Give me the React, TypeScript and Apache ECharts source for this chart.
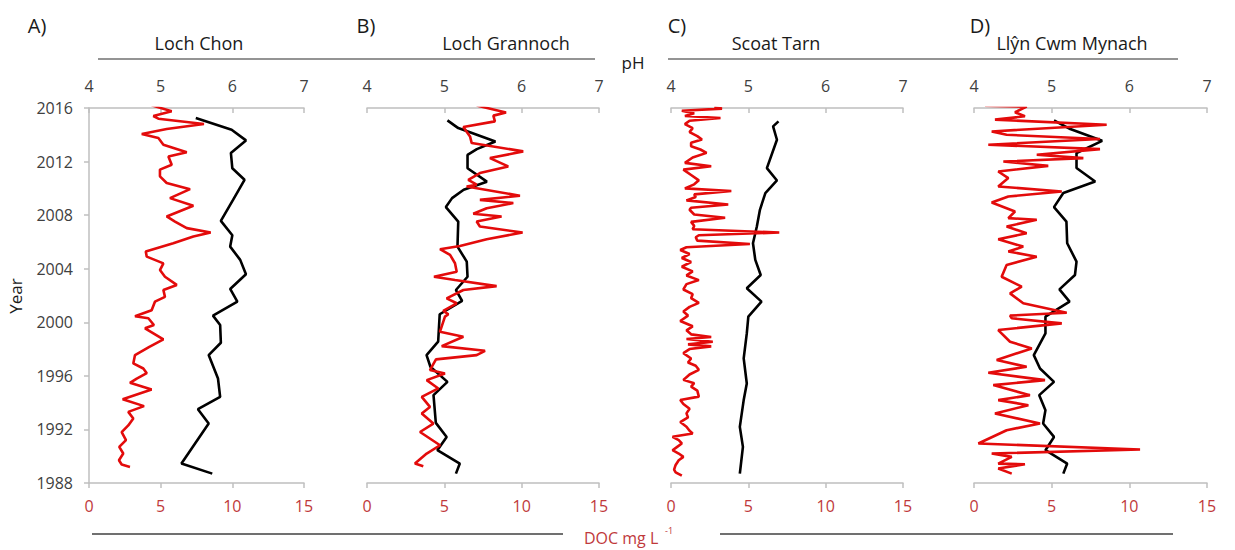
import React, { useEffect, useRef } from "react";
import * as echarts from "echarts";

// ---------- DATA (year, value) ----------
const panelTitles = ["Loch Chon", "Loch Grannoch", "Scoat Tarn", "Llŷn Cwm Mynach"];
const panelLetters = ["A)", "B)", "C)", "D)"];
const phTicks = [4, 5, 6, 7];
const docTicks = [0, 5, 10, 15];
const yearTicks = [1988, 1992, 1996, 2000, 2004, 2008, 2012, 2016];

const chonPH = [
  [2015.25, 5.49], [2014.38, 5.99], [2013.58, 6.19], [2012.64, 5.98], [2011.5, 6.0], [2010.64, 6.17],
  [2009.14, 6.01], [2007.57, 5.84], [2006.5, 6.0], [2005.65, 5.97], [2004.66, 6.11], [2003.59, 6.19],
  [2002.49, 5.97], [2001.54, 6.07], [2000.5, 5.73], [1999.8, 5.83], [1998.47, 5.84], [1997.55, 5.67],
  [1995.8, 5.8], [1994.43, 5.83], [1993.51, 5.52], [1992.44, 5.67], [1989.45, 5.29], [1988.7, 5.72],
];
const chonDOC = [
  [2016.2, 4.37], [2015.75, 5.77], [2015.4, 4.49], [2015.2, 4.84], [2014.8, 8.02], [2014.43, 5.42],
  [2014.06, 3.68], [2013.76, 4.84], [2013.26, 5.19], [2012.7, 6.82], [2012.38, 5.54], [2011.76, 5.77],
  [2011.4, 4.95], [2010.9, 4.95], [2010.4, 5.42], [2009.94, 7.05], [2009.27, 5.65], [2008.7, 7.28],
  [2007.9, 5.42], [2007.52, 6.0], [2007.03, 6.82], [2006.7, 8.49], [2006.4, 7.28], [2005.9, 5.88],
  [2005.28, 3.96], [2004.9, 4.03], [2004.4, 5.19], [2003.9, 4.95], [2003.4, 5.3], [2002.79, 6.12],
  [2002.41, 5.19], [2001.9, 5.3], [2001.54, 4.6], [2000.9, 4.37], [2000.45, 3.21], [2000.3, 4.14],
  [1999.8, 4.53], [1999.55, 3.91], [1998.73, 5.19], [1998.17, 4.21], [1997.55, 3.21], [1996.93, 3.09],
  [1996.55, 3.79], [1996.2, 4.03], [1995.8, 3.33], [1995.48, 2.86], [1994.98, 4.37], [1994.26, 2.35],
  [1993.74, 3.84], [1993.31, 2.74], [1992.82, 3.09], [1992.3, 2.74], [1991.8, 2.28], [1991.2, 2.58],
  [1990.7, 2.11], [1990.2, 2.39], [1989.7, 2.09], [1989.38, 2.28], [1989.2, 2.86],
];

const grannochPH = [
  [2015.08, 5.04], [2014.5, 5.18], [2013.5, 5.66], [2012.93, 5.42], [2012.5, 5.3], [2011.5, 5.3],
  [2010.5, 5.55], [2009.9, 5.25], [2009.27, 5.1], [2008.6, 5.02], [2007.52, 5.18], [2005.65, 5.17],
  [2004.53, 5.29], [2003.4, 5.3], [2002.41, 5.15], [2001.6, 5.23], [2000.6, 4.94], [1998.55, 4.92],
  [1997.55, 4.77], [1996.68, 4.82], [1995.55, 5.04], [1994.56, 4.86], [1992.49, 4.89], [1991.44, 5.03],
  [1990.45, 4.91], [1989.45, 5.2], [1988.7, 5.15],
];
const grannochDOC = [
  [2016.18, 7.09], [2015.67, 8.99], [2015.43, 8.17], [2015.0, 8.27], [2014.58, 6.23], [2013.88, 6.66],
  [2013.38, 6.77], [2012.76, 10.1], [2012.26, 7.95], [2011.64, 9.13], [2011.14, 7.3], [2010.64, 6.55],
  [2010.27, 7.09], [2010.14, 6.44], [2009.45, 9.89], [2009.14, 7.3], [2008.9, 9.46], [2008.52, 7.74],
  [2008.1, 6.87], [2007.9, 8.7], [2007.52, 7.09], [2007.15, 7.3], [2006.7, 10.06], [2006.2, 7.74],
  [2005.7, 6.01], [2005.46, 4.72], [2005.03, 5.37], [2004.41, 5.69], [2003.78, 5.8], [2003.4, 4.33],
  [2003.16, 5.69], [2002.7, 8.38], [2002.41, 6.23], [2001.79, 5.15], [2001.42, 5.8], [2000.85, 4.93],
  [2000.6, 5.26], [2000.42, 5.04], [1999.3, 4.72], [1998.92, 6.23], [1998.22, 4.83], [1997.87, 7.63],
  [1997.55, 7.09], [1997.23, 4.46], [1996.43, 4.07], [1996.18, 5.04], [1995.68, 3.86], [1995.06, 4.61],
  [1994.43, 3.54], [1993.68, 4.07], [1993.19, 3.54], [1992.44, 4.29], [1991.81, 3.43], [1990.82, 4.72],
  [1990.2, 3.86], [1989.45, 3.1], [1989.25, 3.64],
];

const scoatPH = [
  [2015.0, 5.39], [2014.63, 5.32], [2013.63, 5.37], [2011.51, 5.24], [2010.59, 5.37], [2009.65, 5.22],
  [2008.4, 5.15], [2007.15, 5.11], [2005.9, 5.06], [2004.66, 5.09], [2003.53, 5.16], [2002.54, 4.98],
  [2001.54, 5.17], [2000.42, 5.0], [1999.17, 4.98], [1997.3, 4.94], [1995.43, 4.98], [1994.19, 4.94],
  [1992.19, 4.89], [1990.7, 4.93], [1988.7, 4.89],
];
const scoatDOC = [
  [2016.05, 2.8], [2015.95, 3.3], [2015.8, 0.7], [2015.6, 1.5], [2015.4, 0.9], [2015.25, 3.2],
  [2015.05, 1.2], [2014.8, 0.9], [2014.5, 1.4], [2014.2, 1.2], [2013.9, 1.7], [2013.65, 2.0],
  [2013.4, 1.3], [2013.15, 1.3], [2012.9, 1.9], [2012.65, 2.3], [2012.3, 1.4], [2011.9, 0.9],
  [2011.65, 2.6], [2011.4, 0.8], [2011.0, 1.3], [2010.6, 1.8], [2010.3, 1.5], [2010.0, 0.9],
  [2009.8, 3.9], [2009.55, 1.5], [2009.35, 1.6], [2009.1, 1.0], [2008.8, 3.7], [2008.55, 1.3],
  [2008.4, 1.2], [2008.05, 1.5], [2007.8, 3.5], [2007.5, 1.3], [2007.2, 1.5], [2006.95, 1.4],
  [2006.7, 7.0], [2006.5, 1.8], [2006.35, 1.6], [2006.1, 1.7], [2005.85, 5.1], [2005.6, 1.0],
  [2005.4, 0.6], [2005.1, 1.2], [2004.8, 0.7], [2004.5, 1.3], [2004.15, 0.7], [2003.8, 1.4],
  [2003.5, 1.0], [2003.15, 1.8], [2002.85, 1.0], [2002.45, 0.8], [2002.1, 1.4], [2001.8, 1.3],
  [2001.45, 1.8], [2001.15, 1.2], [2000.8, 0.8], [2000.5, 1.1], [2000.1, 0.6], [1999.7, 1.4],
  [1999.4, 1.0], [1999.1, 1.3], [1998.9, 2.6], [1998.75, 1.0], [1998.55, 2.7], [1998.35, 1.1],
  [1998.2, 2.6], [1998.0, 1.2], [1997.7, 0.8], [1997.3, 1.3], [1997.0, 1.1], [1996.75, 1.6],
  [1996.45, 1.8], [1996.1, 1.2], [1995.9, 1.0], [1995.7, 0.8], [1995.45, 1.5], [1995.2, 1.3],
  [1994.9, 1.7], [1994.45, 1.8], [1994.2, 0.6], [1993.9, 0.8], [1993.55, 1.2], [1993.2, 1.0],
  [1992.9, 1.1], [1992.55, 0.6], [1992.2, 1.0], [1991.9, 1.2], [1991.7, 1.4], [1991.45, 0.1],
  [1991.2, 0.5], [1990.95, 0.7], [1990.7, 0.4], [1990.45, 0.1], [1990.2, 0.5], [1989.95, 0.8],
  [1989.7, 0.5], [1989.35, 0.3], [1989.0, 0.2], [1988.8, 0.3], [1988.55, 0.7],
];

const mynachPH = [
  [2015.08, 5.03], [2014.43, 5.24], [2013.55, 5.65], [2012.64, 5.32], [2011.52, 5.32], [2010.51, 5.56],
  [2009.65, 5.15], [2008.6, 5.03], [2007.52, 5.19], [2005.9, 5.2], [2004.53, 5.32], [2003.53, 5.3],
  [2002.46, 5.1], [2001.54, 5.23], [2000.42, 4.92], [1999.17, 4.92], [1997.55, 4.77], [1996.55, 4.85],
  [1995.55, 5.03], [1994.56, 4.84], [1993.44, 4.92], [1992.44, 4.89], [1991.44, 5.03], [1990.45, 4.92],
  [1989.45, 5.2], [1988.7, 5.15],
];
const mynachDOC = [
  [2016.18, 0.71], [2016.1, 3.39], [2015.68, 2.64], [2015.38, 3.28], [2015.13, 1.35], [2014.75, 8.54],
  [2014.25, 1.14], [2014.0, 2.1], [2013.68, 8.11], [2013.26, 0.92], [2012.93, 8.11], [2012.51, 4.04],
  [2012.26, 7.04], [2012.0, 1.89], [2011.68, 4.78], [2011.26, 1.56], [2010.77, 2.21], [2010.14, 1.56],
  [2009.77, 5.65], [2009.39, 2.21], [2008.94, 1.14], [2008.27, 2.64], [2007.78, 2.21], [2007.65, 4.04],
  [2007.15, 2.1], [2006.65, 3.39], [2006.2, 1.56], [2005.65, 3.17], [2005.28, 2.21], [2004.9, 4.04],
  [2004.28, 2.1], [2003.4, 1.78], [2002.66, 3.07], [2002.16, 2.32], [2001.42, 3.17], [2000.71, 5.97],
  [2000.5, 2.32], [2000.3, 2.43], [1999.92, 5.65], [1999.42, 1.56], [1998.55, 2.32], [1998.05, 3.72],
  [1997.18, 1.46], [1996.68, 3.39], [1996.23, 0.92], [1995.68, 4.57], [1995.31, 1.24], [1994.56, 3.6],
  [1994.19, 1.56], [1993.81, 3.5], [1993.19, 1.35], [1992.44, 4.25], [1991.94, 2.1], [1990.95, 0.28],
  [1990.5, 10.69], [1990.2, 1.14], [1989.95, 2.43], [1989.45, 1.56], [1989.4, 3.28], [1989.08, 1.56],
  [1988.7, 2.43],
];

const phSeries = [chonPH, grannochPH, scoatPH, mynachPH];
const docSeries = [chonDOC, grannochDOC, scoatDOC, mynachDOC];

// ---------- LAYOUT ----------
const FONT = "'Open Sans', sans-serif";
const gridBoxes = [
  { left: 89, width: 215 },
  { left: 367, width: 232 },
  { left: 671, width: 232 },
  { left: 974, width: 233 },
];
const GRID_TOP = 108;
const GRID_H = 375;
const AXIS_GRAY = "#BFBFBF";
const LABEL_GRAY = "#404040";
const DOC_RED = "#C0393B";
const LINE_RED = "#E30B0B";

export default function App() {
  const ref = useRef<HTMLDivElement>(null);

  useEffect(() => {
    if (!ref.current) return;
    const chart = echarts.init(ref.current, null, { renderer: "svg" });

    const grid = gridBoxes.map((g) => ({ left: g.left, top: GRID_TOP, width: g.width, height: GRID_H }));

    const xAxis: any[] = [];
    gridBoxes.forEach((_, i) => {
      xAxis.push({
        type: "value",
        gridIndex: i,
        position: "top",
        min: phTicks[0],
        max: phTicks[phTicks.length - 1],
        interval: 1,
        axisLine: { show: true, onZero: false, lineStyle: { color: AXIS_GRAY, width: 1.5 } },
        axisTick: { show: true, inside: true, length: 5, lineStyle: { color: AXIS_GRAY, width: 1.5 } },
        axisLabel: { color: LABEL_GRAY, fontSize: 16, fontFamily: FONT, margin: 14 },
        splitLine: { show: false },
      });
      xAxis.push({
        type: "value",
        gridIndex: i,
        position: "bottom",
        min: docTicks[0],
        max: docTicks[docTicks.length - 1],
        interval: 5,
        axisLine: { show: true, onZero: false, lineStyle: { color: AXIS_GRAY, width: 1.5 } },
        axisTick: { show: true, inside: false, length: 5, lineStyle: { color: AXIS_GRAY, width: 1.5 } },
        axisLabel: { color: DOC_RED, fontSize: 16, fontFamily: FONT, margin: 15 },
        splitLine: { show: false },
      });
    });

    const yAxis = gridBoxes.map((_, i) => ({
      type: "value",
      gridIndex: i,
      min: yearTicks[0],
      max: yearTicks[yearTicks.length - 1],
      interval: 4,
      show: i === 0,
      axisLine: { show: true, onZero: false, lineStyle: { color: AXIS_GRAY, width: 1.5 } },
      axisTick: { show: true, length: 5, lineStyle: { color: AXIS_GRAY, width: 1.5 } },
      axisLabel: {
        color: LABEL_GRAY,
        fontSize: 16,
        fontFamily: FONT,
        margin: 16,
        formatter: (v: number) => String(v),
      },
      splitLine: { show: false },
    }));

    const series: any[] = [];
    gridBoxes.forEach((_, i) => {
      series.push({
        type: "line",
        name: panelTitles[i] + " pH",
        xAxisIndex: 2 * i,
        yAxisIndex: i,
        data: phSeries[i].map(([yr, v]) => [v, yr]),
        showSymbol: false,
        symbol: "none",
        lineStyle: { color: "#000", width: 2.6 },
        z: 2,
      });
      series.push({
        type: "line",
        name: panelTitles[i] + " DOC",
        xAxisIndex: 2 * i + 1,
        yAxisIndex: i,
        data: docSeries[i].map(([yr, v]) => [v, yr]),
        showSymbol: false,
        symbol: "none",
        lineStyle: { color: LINE_RED, width: 2.6 },
        z: 3,
      });
    });

    const letterX = [37, 366, 677, 980];
    const titleX = [199, 506, 776, 1072];

    const graphic: any[] = [];
    panelLetters.forEach((t, i) => {
      graphic.push({
        type: "text",
        x: letterX[i],
        y: 25,
        style: { text: t, fontSize: 20, fontFamily: FONT, fill: "#1a1a1a", textAlign: "center", verticalAlign: "middle" },
      });
      graphic.push({
        type: "text",
        x: titleX[i],
        y: 43,
        style: { text: panelTitles[i], fontSize: 18, fontFamily: FONT, fill: "#1a1a1a", textAlign: "center", verticalAlign: "middle" },
      });
    });
    graphic.push(
      { type: "line", shape: { x1: 98, y1: 59, x2: 595, y2: 59 }, style: { stroke: "#707070", lineWidth: 1.5 } },
      { type: "line", shape: { x1: 668, y1: 59, x2: 1178, y2: 59 }, style: { stroke: "#707070", lineWidth: 1.5 } },
      {
        type: "text", x: 633, y: 62,
        style: { text: "pH", fontSize: 17, fontFamily: FONT, fill: "#1a1a1a", textAlign: "center", verticalAlign: "middle" },
      },
      { type: "line", shape: { x1: 92, y1: 534, x2: 563, y2: 534 }, style: { stroke: "#404040", lineWidth: 1.3 } },
      { type: "line", shape: { x1: 720, y1: 534, x2: 1173, y2: 534 }, style: { stroke: "#404040", lineWidth: 1.3 } },
      {
        type: "text", x: 584, y: 538,
        style: { text: "DOC mg L", fontSize: 16, fontFamily: FONT, fill: DOC_RED, textAlign: "left", verticalAlign: "middle" },
      },
      {
        type: "text", x: 665, y: 530,
        style: { text: "-1", fontSize: 9, fontFamily: FONT, fill: DOC_RED, textAlign: "left", verticalAlign: "middle" },
      },
      {
        type: "text", x: 15, y: 296, rotation: Math.PI / 2,
        style: { text: "Year", fontSize: 17, fontFamily: FONT, fill: "#1a1a1a", textAlign: "center", verticalAlign: "middle" },
      }
    );

    chart.setOption({
      animation: false,
      backgroundColor: "#fff",
      grid,
      xAxis,
      yAxis,
      series,
      graphic,
    });

    return () => chart.dispose();
  }, []);

  return (
    <div
      ref={ref}
      style={{ position: "fixed", left: 0, top: 0, width: 1235, height: 550, background: "#fff" }}
    />
  );
}
